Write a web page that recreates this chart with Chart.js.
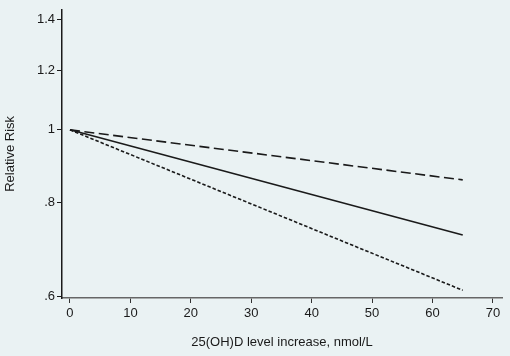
<!DOCTYPE html>
<html>
<head>
<meta charset="utf-8">
<script src="https://cdn.jsdelivr.net/npm/chart.js@4/dist/chart.umd.min.js"></script>
<style>
html,body{margin:0;padding:0;background:#eaf2f3;}
#wrap{width:510px;height:356px;position:relative;}
</style>
</head>
<body>
<div id="wrap"><canvas id="c" width="510" height="356"></canvas></div>
<script>
const xValues = [0, 65];
const solidRR = [1, 0.725];
const longDashRR = [1, 0.858];
const shortDashRR = [1, 0.612];
const xTicks = [0, 10, 20, 30, 40, 50, 60, 70];
const yTicks = [0.6, 0.8, 1, 1.2, 1.4];
const yTickLabels = ['.6', '.8', '1', '1.2', '1.4'];

const toPts = (arr) => xValues.map((x, i) => ({x: x, y: arr[i]}));
const font = {family: 'Liberation Sans, Arial, sans-serif', size: 13};

new Chart(document.getElementById('c'), {
  type: 'line',
  data: {
    datasets: [
      {data: toPts(longDashRR), borderColor: '#1a1a1a', borderWidth: 1.6, borderDash: [10, 4.5], pointRadius: 0, fill: false},
      {data: toPts(solidRR), borderColor: '#1a1a1a', borderWidth: 1.6, pointRadius: 0, fill: false},
      {data: toPts(shortDashRR), borderColor: '#1a1a1a', borderWidth: 1.6, borderDash: [3.5, 2], pointRadius: 0, fill: false}
    ]
  },
  options: {
    responsive: false,
    animation: false,
    events: [],
    layout: {padding: {top: 7, right: 8, left: 0, bottom: 0}},
    plugins: {legend: {display: false}, tooltip: {enabled: false}},
    scales: {
      x: {
        type: 'linear',
        min: -1.32,
        max: 71.5,
        afterBuildTicks: (s) => { s.ticks = xTicks.map(v => ({value: v})); },
        afterFit: (s) => { s.height = 58; },
        ticks: {color: '#1a1a1a', font: font, padding: 3, maxRotation: 0, autoSkip: false},
        grid: {drawOnChartArea: false, drawTicks: true, tickLength: 5, color: '#333', lineWidth: 1},
        border: {display: true, color: '#666', width: 1.5},
        title: {display: true, text: '25(OH)D level increase, nmol/L', color: '#1a1a1a', font: font, padding: {top: 0, bottom: 6}}
      },
      y: {
        type: 'logarithmic',
        min: 0.5977,
        max: 1.444,
        afterBuildTicks: (s) => { s.ticks = yTicks.map(v => ({value: v})); },
        afterFit: (s) => { s.width = 62; },
        ticks: {color: '#1a1a1a', font: font, padding: 2, autoSkip: false,
          callback: (v) => { const i = yTicks.findIndex(t => Math.abs(t - v) < 1e-9); return i >= 0 ? yTickLabels[i] : ''; }},
        grid: {drawOnChartArea: false, drawTicks: true, tickLength: 5, color: '#1a1a1a', lineWidth: 1},
        border: {display: true, color: '#1a1a1a', width: 1.5},
        title: {display: true, text: 'Relative Risk', color: '#1a1a1a', font: font, padding: {top: 3, bottom: 0}}
      }
    }
  }
});
</script>
</body>
</html>
